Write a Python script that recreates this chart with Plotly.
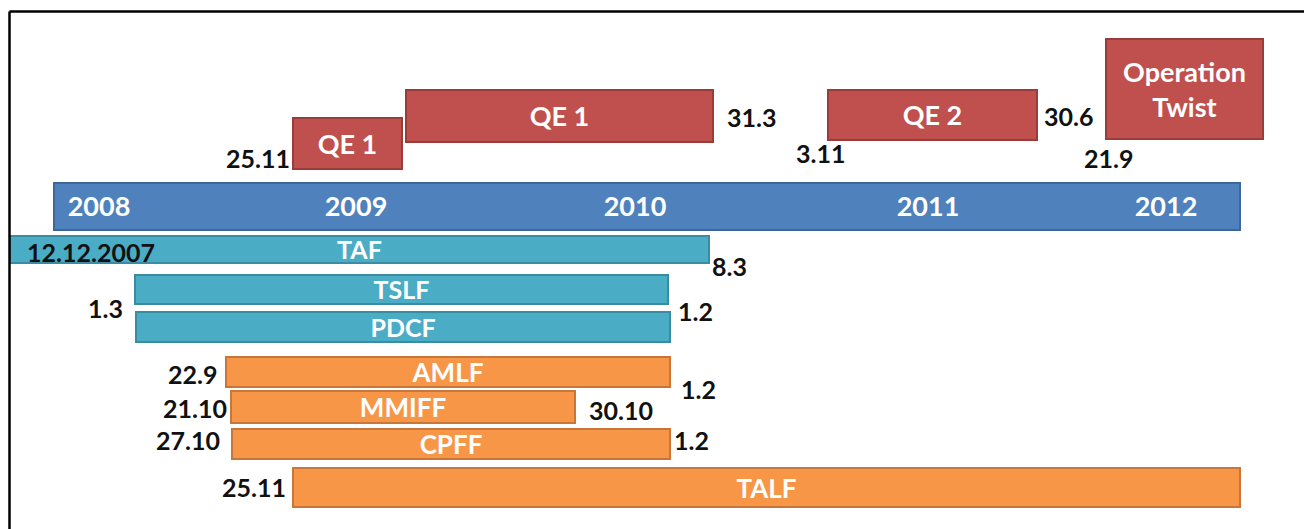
import plotly.graph_objects as go

# programme bars: names, start / end on the timeline (picture units, not to scale in time)
programs = ["QE 1", "QE 1", "QE 2", "Operation<br>Twist", "TAF", "TSLF", "PDCF",
            "AMLF", "MMIFF", "CPFF", "TALF"]
starts = [293, 406, 828, 1106, 10, 135, 136, 226, 231, 232, 293]
ends = [402, 713, 1037, 1263, 709, 668, 670, 670, 575, 670, 1240]
groups = ["qe", "qe", "qe", "qe", "liq", "liq", "liq", "cp", "cp", "cp", "cp"]
start_dates = ["25.11", "", "3.11", "21.9", "12.12.2007", "1.3", "", "22.9", "21.10", "27.10", "25.11"]
end_dates = ["", "31.3", "30.6", "", "8.3", "1.2", "", "1.2", "30.10", "1.2", ""]

# year strip
years = ["2008", "2009", "2010", "2011", "2012"]
year_pos = [99, 356, 635, 928, 1166]
strip_start, strip_end = 54, 1240

# layout of the rows (vertical centre, thickness)
lanes = [143.5, 116, 115, 89, 249.5, 289.5, 327, 372, 407, 444, 487.5]
thick = [51, 52, 50, 100, 27, 29, 30, 30, 32, 30, 39]
strip_y, strip_h = 206.5, 47

fill = {"qe": "#C0504D", "liq": "#4BACC6", "cp": "#F79646", "year": "#4F81BD"}
edge = {"qe": "#9A3C3A", "liq": "#3A8CA3", "cp": "#C8763A", "year": "#3D6796"}
name_size = {"qe": 27, "liq": 25, "cp": 26}

FONT = "Lato"

fig = go.Figure()

# year strip
fig.add_trace(go.Bar(orientation="h", y=[strip_y], base=[strip_start],
                     x=[strip_end - strip_start], width=[strip_h],
                     marker=dict(color=fill["year"], line=dict(color=edge["year"], width=2)),
                     hoverinfo="skip", showlegend=False))
fig.add_trace(go.Scatter(x=year_pos, y=[strip_y + 3] * len(years), mode="text", text=years,
                         textfont=dict(family=FONT, size=27, color="white", weight="bold"),
                         hoverinfo="skip", showlegend=False))

for g in ["qe", "liq", "cp"]:
    idx = [i for i in range(len(programs)) if groups[i] == g]
    fig.add_trace(go.Bar(orientation="h",
                         y=[lanes[i] for i in idx],
                         base=[starts[i] for i in idx],
                         x=[ends[i] - starts[i] for i in idx],
                         width=[thick[i] for i in idx],
                         marker=dict(color=fill[g], line=dict(color=edge[g], width=2)),
                         hoverinfo="skip", showlegend=False))
    # names inside the bars
    fig.add_trace(go.Scatter(x=[(starts[i] + ends[i]) / 2 for i in idx],
                             y=[lanes[i] + 3.5 for i in idx], mode="text",
                             text=[programs[i] for i in idx],
                             textfont=dict(family=FONT, size=name_size[g], color="white", weight="bold"),
                             hoverinfo="skip", showlegend=False))

# where each date label sits relative to its bar: (dx, dy from centre, anchor)
start_place = {0: (-1, 14, "right"), 2: (19, 38, "right"), 3: (29, 69, "right"),
               4: (15, 2, "left"), 5: (-10, 18, "right"), 7: (-7, 2, "right"),
               8: (-2, 1, "right"), 9: (-10, -4, "right"), 10: (-5, -1, "right")}
end_place = {1: (12, 1, "left"), 2: (5, 1, "left"), 4: (1, 16, "left"),
             5: (8, 21, "left"), 7: (9, 17, "left"), 8: (12, 3, "left"),
             9: (2, -4, "left")}

for i, lbl in enumerate(start_dates):
    if lbl:
        dx, dy, anc = start_place[i]
        fig.add_annotation(x=starts[i] + dx, y=lanes[i] + dy, text=lbl, showarrow=False,
                           xanchor=anc, yanchor="middle",
                           font=dict(family=FONT, size=25, color="#111111", weight="bold"))
for i, lbl in enumerate(end_dates):
    if lbl:
        dx, dy, anc = end_place[i]
        fig.add_annotation(x=ends[i] + dx, y=lanes[i] + dy, text=lbl, showarrow=False,
                           xanchor=anc, yanchor="middle",
                           font=dict(family=FONT, size=25, color="#111111", weight="bold"))

# frame
frame = dict(type="line", line=dict(color="black", width=2.5), layer="above")
fig.add_shape(x0=9.5, x1=9.5, y0=11.5, y1=540, **frame)
fig.add_shape(x0=9.5, x1=1306.5, y0=11.5, y1=11.5, **frame)
fig.add_shape(x0=1306.5, x1=1306.5, y0=11.5, y1=540, **frame)

# the page body adds 8px on the left and top, so the plot covers the rest of the window
fig.update_layout(width=1304, height=521, margin=dict(l=0, r=0, t=0, b=0),
                  paper_bgcolor="white", plot_bgcolor="white", barmode="overlay",
                  xaxis=dict(range=[8, 1312], visible=False, fixedrange=True),
                  yaxis=dict(range=[529, 8], visible=False, fixedrange=True))

fig.write_html("out.html")
